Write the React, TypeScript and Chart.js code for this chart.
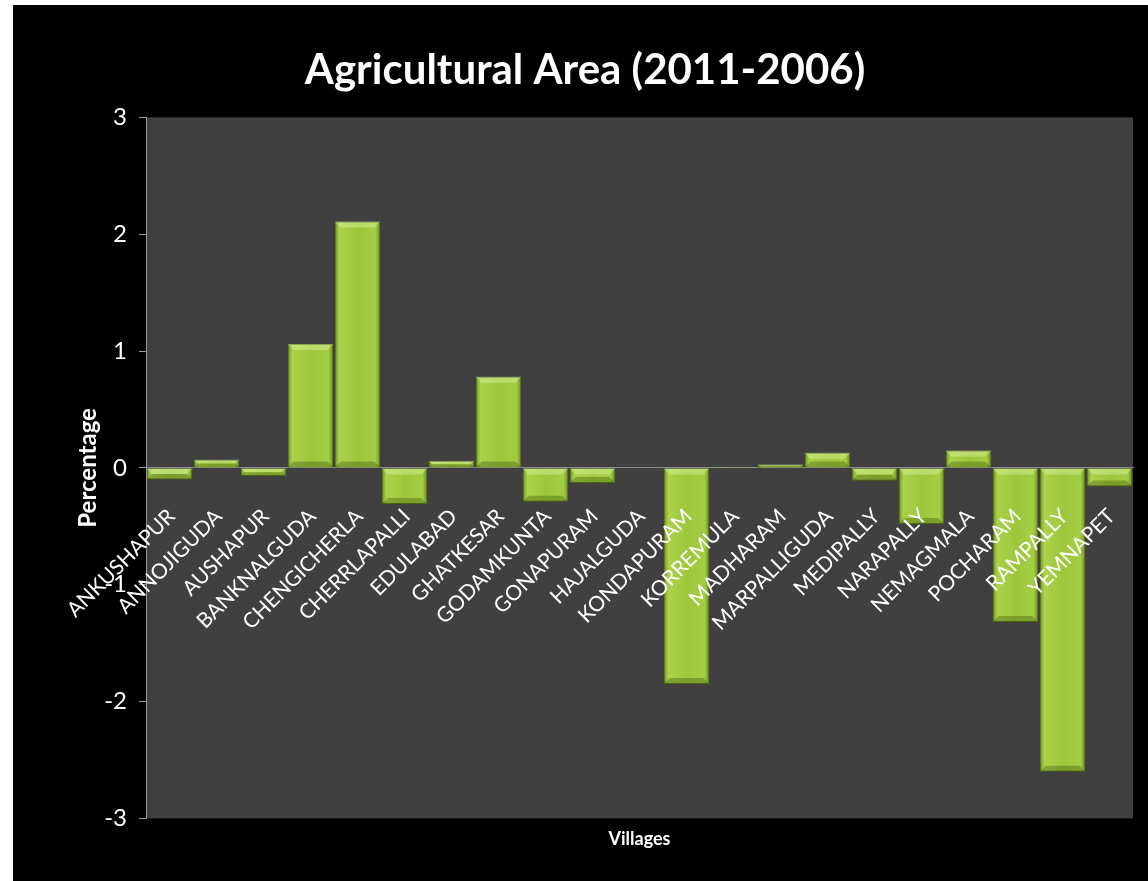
import React, { useEffect, useRef } from "react";
import { Chart, registerables } from "chart.js";

Chart.register(...registerables);

const villages = [
  "ANKUSHAPUR", "ANNOJIGUDA", "AUSHAPUR", "BANKNALGUDA", "CHENGICHERLA",
  "CHERRLAPALLI", "EDULABAD", "GHATKESAR", "GODAMKUNTA", "GONAPURAM",
  "HAJALGUDA", "KONDAPURAM", "KORREMULA", "MADHARAM", "MARPALLIGUDA",
  "MEDIPALLY", "NARAPALLY", "NEMAGMALA", "POCHARAM", "RAMPALLY", "YEMNAPET",
];

const percentChange = [
  -0.10, 0.07, -0.07, 1.06, 2.11,
  -0.31, 0.06, 0.78, -0.29, -0.13,
  0.0, -1.85, 0.01, 0.03, 0.13,
  -0.11, -0.48, 0.15, -1.32, -2.6, -0.16,
];

const yTicks = [-3, -2, -1, 0, 1, 2, 3];

const chartTitle = "Agricultural Area (2011-2006)";
const xTitle = "Villages";
const yTitle = "Percentage";

const FONT = "Lato, 'Open Sans', sans-serif";
const CAT_PCT = 0.97;

const plotBg = {
  id: "plotBg",
  beforeDraw(chart: any) {
    const { ctx, chartArea } = chart;
    if (!chartArea) return;
    ctx.save();
    ctx.fillStyle = "#404040";
    ctx.fillRect(chartArea.left, chartArea.top, chartArea.right - chartArea.left, chartArea.bottom - chartArea.top);
    ctx.restore();
  },
};

// soft bevel on each bar, taken from the bar elements the library laid out
const bevel = {
  id: "bevel",
  afterDatasetsDraw(chart: any) {
    const { ctx } = chart;
    const meta = chart.getDatasetMeta(0);
    ctx.save();
    meta.data.forEach((el: any) => {
      const p = el.getProps(["x", "y", "base", "width"], true);
      const left = p.x - p.width / 2;
      const right = p.x + p.width / 2;
      const top = Math.min(p.y, p.base);
      const bottom = Math.max(p.y, p.base);
      const h = bottom - top;
      if (h < 2) return;
      const b = Math.min(6, h / 2);
      ctx.fillStyle = "rgba(235,255,190,0.35)";
      ctx.beginPath();
      ctx.moveTo(left, top);
      ctx.lineTo(right, top);
      ctx.lineTo(right - b, top + b);
      ctx.lineTo(left + b, top + b);
      ctx.closePath();
      ctx.fill();
      ctx.fillStyle = "rgba(40,60,0,0.30)";
      ctx.beginPath();
      ctx.moveTo(left, bottom);
      ctx.lineTo(right, bottom);
      ctx.lineTo(right - b, bottom - b);
      ctx.lineTo(left + b, bottom - b);
      ctx.closePath();
      ctx.fill();
    });
    ctx.restore();
  },
};

function barFill(c: any) {
  const chart = c.chart;
  const xs = chart.scales && chart.scales.x;
  if (!chart.chartArea || !xs) return "#9dc73b";
  const cx = xs.getPixelForValue(c.dataIndex);
  const w = (xs.width / villages.length) * CAT_PCT;
  const g = chart.ctx.createLinearGradient(cx - w / 2, 0, cx + w / 2, 0);
  g.addColorStop(0, "#6f9020");
  g.addColorStop(0.1, "#aad34b");
  g.addColorStop(0.5, "#9dc73b");
  g.addColorStop(0.9, "#a3cd43");
  g.addColorStop(1, "#6b8a1e");
  return g;
}

export default function App() {
  const ref = useRef<HTMLCanvasElement | null>(null);
  useEffect(() => {
    if (!ref.current) return;
    const chart = new Chart(ref.current, {
      type: "bar",
      data: {
        labels: villages,
        datasets: [
          {
            data: percentChange,
            backgroundColor: barFill as any,
            borderColor: "#5a7618",
            borderWidth: 1,
            barPercentage: 1,
            categoryPercentage: CAT_PCT,
          },
        ],
      },
      plugins: [plotBg, bevel],
      options: {
        responsive: false,
        animation: false,
        devicePixelRatio: 1,
        layout: { padding: { left: 9, right: 0, top: 0, bottom: 0 } },
        plugins: {
          legend: { display: false },
          tooltip: { enabled: false },
          title: {
            display: true,
            text: chartTitle,
            color: "#ffffff",
            font: { family: FONT, size: 42, weight: "bold" },
            padding: { top: 40, bottom: 22 },
          },
        },
        scales: {
          x: {
            position: { y: 0 } as any,
            afterFit(scale: any) {
              scale.paddingLeft = 0;
              scale.paddingRight = 0;
            },
            grid: { display: false, drawTicks: false },
            border: { display: true, color: "#8a8a8a", width: 1 },
            ticks: {
              z: 1,
              color: "#ffffff",
              font: { family: FONT, size: 21 },
              minRotation: 45,
              maxRotation: 45,
              autoSkip: false,
              padding: 36,
              labelOffset: 2,
            },
          },
          x2: {
            type: "category",
            position: "bottom",
            grid: { display: false, drawTicks: false },
            border: { display: false },
            ticks: { display: false },
            title: {
              display: true,
              text: xTitle,
              color: "#ffffff",
              font: { family: FONT, size: 18, weight: "bold" },
              padding: { top: 10, bottom: 31 },
            },
          },
          y: {
            min: -3,
            max: 3,
            afterFit(scale: any) {
              scale.width = 124;
            },
            afterBuildTicks(scale: any) {
              scale.ticks = yTicks.map((v) => ({ value: v }));
            },
            grid: {
              display: true,
              drawOnChartArea: false,
              drawTicks: true,
              tickLength: 7,
              color: "#9a9a9a",
            },
            border: { display: true, color: "#9a9a9a", width: 1 },
            ticks: {
              color: "#ffffff",
              font: { family: FONT, size: 24 },
              padding: 12,
            },
            title: {
              display: true,
              text: yTitle,
              color: "#ffffff",
              font: { family: FONT, size: 24, weight: "bold" },
              padding: { top: 52, bottom: 0 },
            },
          },
          y2: {
            type: "linear",
            position: "right",
            afterFit(scale: any) {
              scale.width = 15;
            },
            grid: { display: false, drawTicks: false },
            border: { display: false },
            ticks: { display: false },
          },
        },
      },
    });
    return () => chart.destroy();
  }, []);

  return (
    <div style={{ position: "fixed", left: 0, top: 0, width: 1148, height: 881, background: "#ffffff" }}>
      <div style={{ position: "absolute", left: 13, top: 5, width: 1135, height: 876, background: "#000000" }}>
        <canvas ref={ref} width={1135} height={876} style={{ display: "block" }} />
      </div>
    </div>
  );
}
